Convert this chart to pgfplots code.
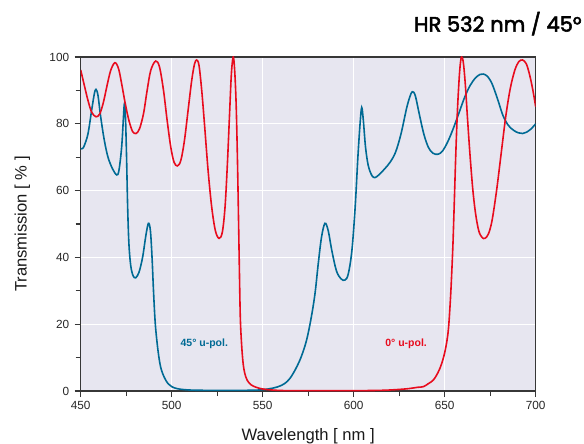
\documentclass[border=0pt]{standalone}
\usepackage{fontspec}
\setmainfont{Liberation Sans}
\newfontfamily\titlefont{Poppins}[FakeBold=2.5]
\usepackage{pgfplots}
\pgfplotsset{compat=1.18}
\definecolor{bgc}{RGB}{231,230,240}
\definecolor{bluec}{RGB}{0,106,148}
\definecolor{redc}{RGB}{232,12,30}
\definecolor{axc}{RGB}{55,55,55}
\begin{document}
\begin{tikzpicture}
\useasboundingbox (-80.7bp,-53bp) rectangle (503.3bp,391bp);
\begin{axis}[
  at={(0,0)}, anchor=south west,
  scale only axis, width=455bp, height=334bp,
  xmin=450, xmax=700, ymin=0, ymax=100,
  xtick={450,500,...,700}, ytick={0,20,...,100},
  minor x tick num=1, minor y tick num=1,
  tick align=outside, xtick pos=bottom, ytick pos=left,
  major tick length=6bp, minor tick length=5bp,
  every tick/.style={axc, line width=1.1bp},
  axis line style={axc, line width=1.3bp},
  axis background/.style={fill=bgc},
  grid=major, major grid style={white, line width=1bp},
  /pgf/number format/assume math mode=true,
  tick label style={font=\fontsize{11.8bp}{13bp}\selectfont, text=black!85},
  xticklabel style={yshift=-1bp},
  yticklabel style={xshift=-2bp},
  xlabel={Wavelength [ nm ]}, ylabel={Transmission [ \% ]},
  label style={font=\fontsize{16.6bp}{18bp}\selectfont, text=black!90},
  xlabel style={at={(axis description cs:0.5,0)}, anchor=base, yshift=-49bp},
  ylabel style={at={(axis description cs:-0.1191,0.5)}, anchor=base},
  every axis plot/.append style={line width=1.6bp, smooth, tension=0.55, no marks},
  clip=true,
]
\addplot[bluec] coordinates {
(450,72.5)(451,72.6)(452,73.5)(454,77)(456,84)(457.5,89)(458.4,90.3)(459.5,88.5)
(461,82)(463,75)(465,70)(467.5,66.5)(469.8,64.7)(471,66)(472.5,73)(473.5,82)(474,85.9)
(474.6,82)(475.2,70)(475.8,55)(476.5,44)(477.5,37.5)(478.8,34.5)(480.2,33.9)(482,35.5)
(484,40)(485.8,46.5)(487.2,50.2)(488.3,48)(489.2,40)(490,30)(491,20)(492.5,12)(494,7)
(496,4)(498,2.2)(500,1.3)(503,0.7)(507,0.4)(512,0.25)(520,0.2)(530,0.2)(540,0.2)
(548,0.3)(553,0.6)(558,1.2)(562,2.2)(565,3.8)(568,6.5)(571,10)(574,15)(576.5,21.5)
(578.7,29)(580.5,38)(582.3,46)(584.2,50.2)(586,48)(588,42)(590.5,36)(593,33.6)
(595.2,33.2)(597,35)(599,42)(600.8,55)(602.3,70)(603.5,80)(604.4,84.9)(605.3,81)
(606.5,73)(608,67.5)(610,64.5)(611.7,63.9)(614,64.8)(617,66.5)(620,68.5)(623,71.5)
(626,77)(629,84.5)(630.8,88)(632.2,89.6)(633.8,88.5)(636,83)(638.5,77)(641,73)
(643.5,71.2)(646.5,70.9)(649,72)(652,75)(655,79)(658,83.5)(661,88)(664,91.5)
(667,93.8)(669.5,94.8)(671.2,94.9)(673.5,94.2)(676,92)(679,87.5)(682,82.5)(685,79.5)
(688,78)(690.5,77.3)(692.8,77.1)(695,77.5)(697.5,78.5)(700,80)
};
\addplot[redc] coordinates {
(450,96.1)(452,91.5)(454,87)(456,83.5)(458.4,82.1)(460.5,83)(462.5,86.5)(464.5,91.5)
(466.5,96)(468.8,98.3)(470.8,96.5)(472.5,92)(474.5,86)(476.5,81)(478.5,77.7)(480.4,77.1)
(482.3,78.5)(484.5,83)(486.5,90)(488.5,96)(491.2,98.8)(493.3,97)(495.5,90)(497.5,81)
(499.5,73)(501.3,68.5)(503.1,67.4)(505,69)(507,75)(509,84)(511,93)(512.5,97.8)
(513.7,99.1)(515,97.5)(516.5,90)(518,80)(520,66)(522,55)(524,48)(526,45.7)(527.8,47.5)
(529.3,55)(530.6,68)(531.8,83)(532.8,95)(533.8,100)(534.6,96)(535.4,86)(536.1,70)
(536.7,52)(537.2,36)(537.7,22)(538.4,14)(539.2,8.5)(540.1,5.4)(541.5,3.2)(543.5,1.9)
(546,1.2)(549,0.7)(553,0.4)(558,0.2)(565,0.1)(580,0.1)(600,0.1)(615,0.2)(623,0.4)
(630,0.7)(635,1.1)(638.3,1.3)(641,2.2)(643.8,3.3)(646.3,5.5)(648.4,8.3)(650.4,12.5)
(652,18.3)(653.2,28)(654,37)(654.6,45)(655.3,57)(656.1,71)(657,84)(658,94)(658.7,98.5)
(659.3,100)(660.2,98.5)(661.3,92)(662.6,81)(664,70)(665.5,60)(667,53)(668.7,48)
(670.5,46)(672.1,45.7)(674,47)(676,51)(678.5,60)(681,71)(683.5,82)(686,90.5)(688.5,96)
(690.7,98.6)(692.8,99.1)(694.8,98)(696.5,95)(698.3,90.5)(700,85.1)
};
\node[font=\bfseries\fontsize{10.5bp}{12bp}\selectfont, text=bluec] at (axis cs:517.9,14) {45° u-pol.};
\node[font=\bfseries\fontsize{10.5bp}{12bp}\selectfont, text=redc] at (axis cs:628.8,14) {0° u-pol.};
\end{axis}
\node[anchor=base east, font=\titlefont\fontsize{21bp}{25bp}\selectfont, inner sep=0pt] at (501bp,359.3bp) {HR 532 nm / 45°};
\end{tikzpicture}
\end{document}
